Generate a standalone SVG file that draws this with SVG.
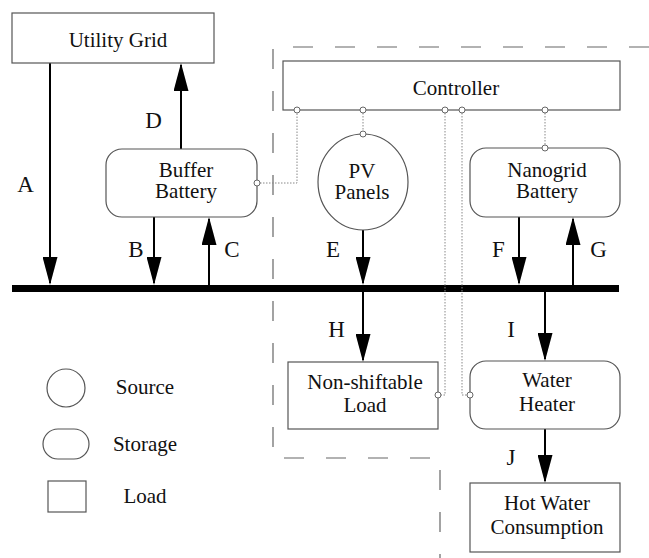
<svg xmlns="http://www.w3.org/2000/svg" width="649" height="558" viewBox="0 0 649 558">
<defs>
<marker id="ah" viewBox="0 0 28 15" markerWidth="28" markerHeight="15" refX="26" refY="7.5" orient="auto" markerUnits="userSpaceOnUse">
<path d="M0 0 L28 7.5 L0 15 Z" fill="#000"/>
</marker>
</defs>
<rect width="649" height="558" fill="#fff"/>
<g id="boundary">
<path d="M649 47 H273 V458 H440 V558" fill="none" stroke="#666" stroke-width="1.2" stroke-dasharray="20 22"/>
</g>
<g id="bus"><rect x="12" y="285" width="607" height="7" fill="#000"/></g>
<g id="connectors">
<g stroke="#000" stroke-width="2" fill="none" marker-end="url(#ah)">
<line x1="50" y1="63" x2="50" y2="283"/>
<line x1="181" y1="149" x2="181" y2="65"/>
<line x1="154" y1="217" x2="154" y2="283"/>
<line x1="209" y1="285" x2="209" y2="219"/>
<line x1="363" y1="230" x2="363" y2="283"/>
<line x1="363" y1="292" x2="363" y2="360"/>
<line x1="519" y1="217" x2="519" y2="283"/>
<line x1="573" y1="285" x2="573" y2="219"/>
<line x1="545" y1="292" x2="545" y2="359"/>
<line x1="545" y1="429" x2="545" y2="481"/>
</g>
<g stroke="#888" stroke-width="1" fill="none" stroke-dasharray="1.5 1.5">
<path d="M260 183 H297 V113"/>
<path d="M363 113 V131"/>
<path d="M445 113 V395 H441"/>
<path d="M462 113 V395 H467"/>
<path d="M545 113 V145"/>
</g>
<text font-family="Liberation Serif" font-size="23" fill="#111" text-anchor="middle" x="25.5" y="192">A</text>
<text font-family="Liberation Serif" font-size="23" fill="#111" text-anchor="middle" x="153.5" y="128">D</text>
<text font-family="Liberation Serif" font-size="23" fill="#111" text-anchor="middle" x="136" y="257">B</text>
<text font-family="Liberation Serif" font-size="23" fill="#111" text-anchor="middle" x="232" y="257">C</text>
<text font-family="Liberation Serif" font-size="23" fill="#111" text-anchor="middle" x="333" y="257">E</text>
<text font-family="Liberation Serif" font-size="23" fill="#111" text-anchor="middle" x="336.5" y="337">H</text>
<text font-family="Liberation Serif" font-size="23" fill="#111" text-anchor="middle" x="498.5" y="257">F</text>
<text font-family="Liberation Serif" font-size="23" fill="#111" text-anchor="middle" x="598.5" y="257">G</text>
<text font-family="Liberation Serif" font-size="23" fill="#111" text-anchor="middle" x="511" y="337">I</text>
<text font-family="Liberation Serif" font-size="23" fill="#111" text-anchor="middle" x="511" y="465">J</text>
</g>
<g id="utility-grid">
<rect x="12" y="13" width="202" height="50" fill="#fff" stroke="#555" stroke-width="1.2"/>
<text font-family="Liberation Serif" font-size="21" fill="#111" text-anchor="middle" x="118" y="47">Utility Grid</text>
</g>
<g id="controller">
<rect x="283" y="61" width="337" height="49" fill="#fff" stroke="#555" stroke-width="1.2"/>
<text font-family="Liberation Serif" font-size="21" fill="#111" text-anchor="middle" x="456" y="95">Controller</text>
<g fill="#fff" stroke="#666" stroke-width="1">
<circle cx="297" cy="110" r="3"/>
<circle cx="363" cy="110" r="3"/>
<circle cx="445" cy="110" r="3"/>
<circle cx="462" cy="110" r="3"/>
<circle cx="545" cy="110" r="3"/>
</g>
</g>
<g id="buffer-battery">
<rect x="106" y="149" width="151" height="68" rx="16" fill="#fff" stroke="#555" stroke-width="1.2"/>
<text font-family="Liberation Serif" font-size="21" fill="#111" text-anchor="middle" x="186" y="177">Buffer</text>
<text font-family="Liberation Serif" font-size="21" fill="#111" text-anchor="middle" x="186" y="198">Battery</text>
<circle cx="257" cy="183" r="3" fill="#fff" stroke="#666" stroke-width="1"/>
</g>
<g id="pv-panels">
<ellipse cx="363" cy="182" rx="45" ry="48" fill="#fff" stroke="#555" stroke-width="1.2"/>
<text font-family="Liberation Serif" font-size="21" fill="#111" text-anchor="middle" x="362" y="178">PV</text>
<text font-family="Liberation Serif" font-size="21" fill="#111" text-anchor="middle" x="362" y="199">Panels</text>
<circle cx="363" cy="134" r="3" fill="#fff" stroke="#666" stroke-width="1"/>
</g>
<g id="nanogrid-battery">
<rect x="470" y="148" width="150" height="69" rx="16" fill="#fff" stroke="#555" stroke-width="1.2"/>
<text font-family="Liberation Serif" font-size="21" fill="#111" text-anchor="middle" x="547" y="177">Nanogrid</text>
<text font-family="Liberation Serif" font-size="21" fill="#111" text-anchor="middle" x="547" y="198">Battery</text>
<circle cx="545" cy="148" r="3" fill="#fff" stroke="#666" stroke-width="1"/>
</g>
<g id="non-shiftable-load">
<rect x="288" y="362" width="150" height="67" fill="#fff" stroke="#555" stroke-width="1.2"/>
<text font-family="Liberation Serif" font-size="21" fill="#111" text-anchor="middle" x="365" y="389">Non-shiftable</text>
<text font-family="Liberation Serif" font-size="21" fill="#111" text-anchor="middle" x="365" y="412">Load</text>
<circle cx="438" cy="395" r="3" fill="#fff" stroke="#666" stroke-width="1"/>
</g>
<g id="water-heater">
<rect x="470" y="361" width="150" height="68" rx="16" fill="#fff" stroke="#555" stroke-width="1.2"/>
<text font-family="Liberation Serif" font-size="21" fill="#111" text-anchor="middle" x="547" y="387">Water</text>
<text font-family="Liberation Serif" font-size="21" fill="#111" text-anchor="middle" x="547" y="411">Heater</text>
<circle cx="470" cy="395" r="3" fill="#fff" stroke="#666" stroke-width="1"/>
</g>
<g id="hot-water-consumption">
<rect x="470" y="483" width="150" height="69" fill="#fff" stroke="#555" stroke-width="1.2"/>
<text font-family="Liberation Serif" font-size="21" fill="#111" text-anchor="middle" x="547" y="510">Hot Water</text>
<text font-family="Liberation Serif" font-size="21" fill="#111" text-anchor="middle" x="547" y="534">Consumption</text>
</g>
<g id="legend">
<circle cx="66" cy="388" r="19" fill="#fff" stroke="#555" stroke-width="1.2"/>
<text font-family="Liberation Serif" font-size="21" fill="#111" text-anchor="middle" x="145" y="394">Source</text>
<rect x="43" y="429" width="46" height="30" rx="15" fill="#fff" stroke="#555" stroke-width="1.2"/>
<text font-family="Liberation Serif" font-size="21" fill="#111" text-anchor="middle" x="145" y="451">Storage</text>
<rect x="48" y="481" width="38" height="31" fill="#fff" stroke="#555" stroke-width="1.2"/>
<text font-family="Liberation Serif" font-size="21" fill="#111" text-anchor="middle" x="145" y="503">Load</text>
</g>
</svg>
